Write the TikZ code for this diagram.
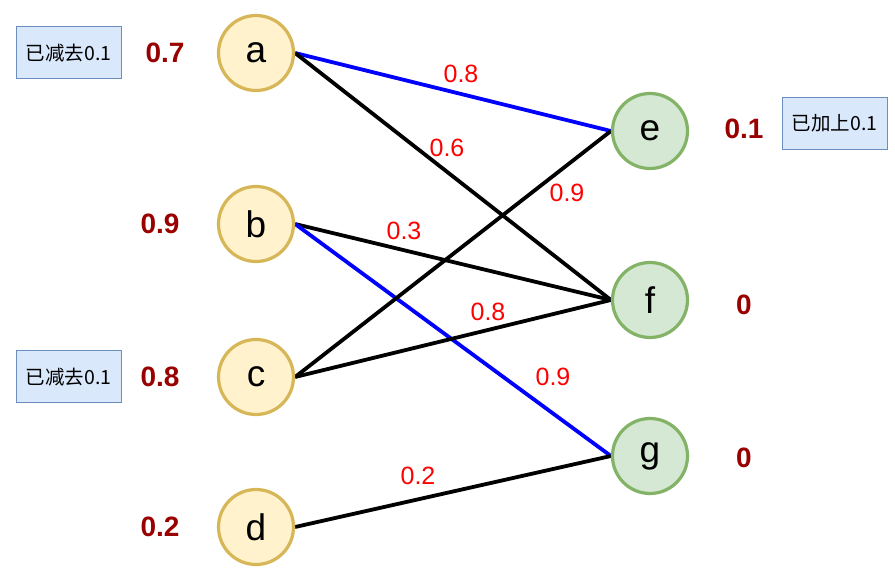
\documentclass[tikz,border=0pt]{standalone}
\usepackage{fontspec}
\usetikzlibrary{backgrounds}
\setmainfont{Liberation Sans}
\newfontfamily\cjk{Noto Sans CJK SC}
\definecolor{yfill}{HTML}{FFF2CC}
\definecolor{ydraw}{HTML}{D6B656}
\definecolor{gfill}{HTML}{D5E8D4}
\definecolor{gdraw}{HTML}{82B366}
\definecolor{bfill}{HTML}{DAE8FC}
\definecolor{bdraw}{HTML}{6C8EBF}
\definecolor{wred}{HTML}{990000}
\definecolor{ered}{HTML}{FF0000}
\definecolor{eblue}{HTML}{0000FF}
\tikzset{
  lnode/.style={circle, fill=yfill, draw=ydraw, line width=3.2pt, minimum size=75pt, inner sep=0pt, font=\fontsize{37}{37}\selectfont},
  rnode/.style={circle, fill=gfill, draw=gdraw, line width=3.2pt, minimum size=75pt, inner sep=0pt, font=\fontsize{37}{37}\selectfont},
  wlabel/.style={text=wred, font=\bfseries\fontsize{28}{28}\selectfont},
  elabel/.style={text=ered, font=\fontsize{25}{25}\selectfont},
  notebox/.style={fill=bfill, draw=bdraw, line width=1pt, minimum width=105pt, minimum height=52pt, inner sep=0pt, font=\cjk\fontsize{19.5}{19.5}\selectfont},
  edge/.style={line width=3.8pt, black},
  bedge/.style={line width=3.8pt, eblue}
}
\begin{document}
\begin{tikzpicture}[x=1pt,y=-1pt]
\useasboundingbox (0,0) rectangle (895,577);
\node[lnode] (a) at (256,53) {a};
\node[lnode] (b) at (256,224) {b};
\node[lnode] (c) at (256,377) {c};
\node[lnode] (d) at (256,527) {d};
\node[rnode] (e) at (650,131) {e};
\node[rnode] (f) at (650,300) {f};
\node[rnode] (g) at (650,456) {g};
\begin{scope}[on background layer]
\draw[bedge] (a.east) -- (e.west);
\draw[edge] (a.east) -- (f.west);
\draw[edge] (b.east) -- (f.west);
\draw[bedge] (b.east) -- (g.west);
\draw[edge] (c.east) -- (e.west);
\draw[edge] (c.east) -- (f.west);
\draw[edge] (d.east) -- (g.west);
\end{scope}
% weights
\node[wlabel] (wa) at (165,53) {0.7};
\node[wlabel] (wb) at (160,224) {0.9};
\node[wlabel] (wc) at (160,377) {0.8};
\node[wlabel] (wd) at (160,527) {0.2};
\node[wlabel] (we) at (744,129) {0.1};
\node[wlabel] (wf) at (744,305) {0};
\node[wlabel] (wg) at (744,458) {0};
% edge labels
\node[elabel] (l1) at (461,74) {0.8};
\node[elabel] (l2) at (447,148) {0.6};
\node[elabel] (l3) at (567,193) {0.9};
\node[elabel] (l4) at (404,231) {0.3};
\node[elabel] (l5) at (488,312) {0.8};
\node[elabel] (l6) at (553,377) {0.9};
\node[elabel] (l7) at (418,476) {0.2};
% notes
\node[notebox] (n1) at (68.5,53) {已减去0.1};
\node[notebox] (n2) at (68.5,377) {已减去0.1};
\node[notebox] (n3) at (834.5,123.5) {已加上0.1};
\end{tikzpicture}
\end{document}
